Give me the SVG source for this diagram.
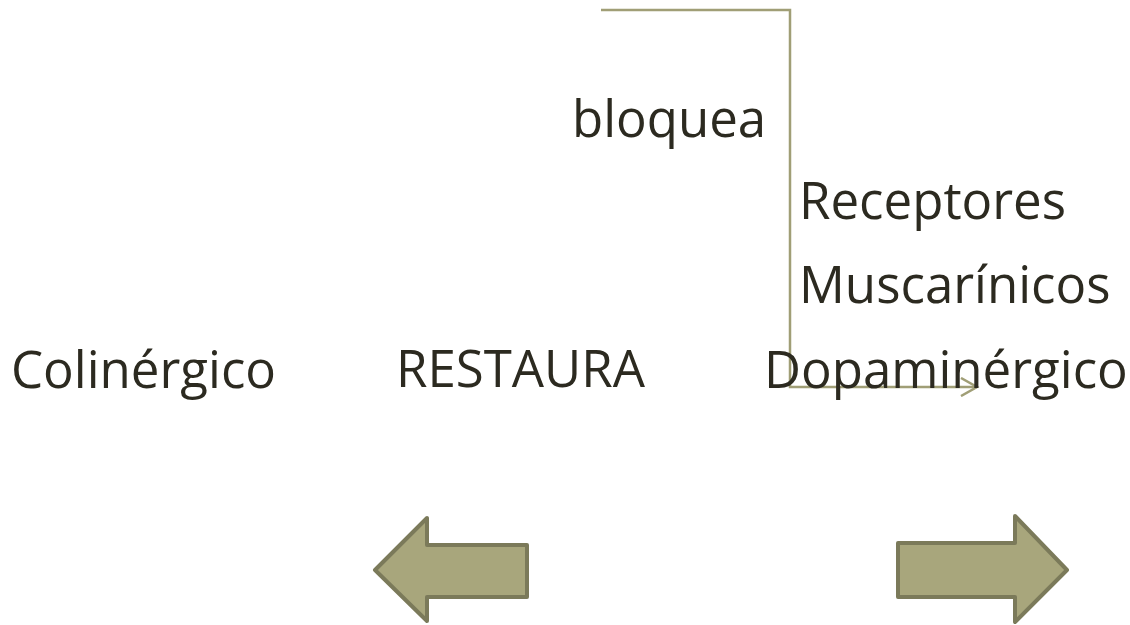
<svg xmlns="http://www.w3.org/2000/svg" width="1130" height="625" viewBox="0 0 1130 625">
<style>
.t{font-family:"Open Sans","Liberation Sans",sans-serif;font-size:51px;fill:#2c2a20}
.blk{fill:#a8a67c;stroke:#7b7a5a;stroke-width:4;stroke-linejoin:round}
.con{fill:none;stroke:#a09e76;stroke-width:2.5}
</style>
<defs>
<marker id="open" markerWidth="20" markerHeight="20" refX="17" refY="10" orient="auto" markerUnits="userSpaceOnUse">
<path d="M1,1 L17,10 L1,19" fill="none" stroke="#a09e76" stroke-width="2.5"/>
</marker>
</defs>
<rect width="1130" height="625" fill="#ffffff"/>
<g id="connectors">
<path class="con" d="M601,10 H790 V387 H977" marker-end="url(#open)"/>
</g>
<g id="colinergico"><text class="t" x="11" y="388">Colinérgico</text></g>
<g id="restaura"><text class="t" x="396" y="387">RESTAURA</text></g>
<g id="dopaminergico"><text class="t" x="764" y="388">Dopaminérgico</text></g>
<g id="bloquea"><text class="t" x="572" y="137">bloquea</text></g>
<g id="receptores"><text class="t" x="799" y="219">Receptores</text><text class="t" x="799" y="303">Muscarínicos</text></g>
<g id="arrow-left"><path class="blk" d="M375,570 L427,518 L427,545 L527,545 L527,597 L427,597 L427,621 Z"/></g>
<g id="arrow-right"><path class="blk" d="M898,543 L1015,543 L1015,516 L1067,570 L1015,622 L1015,597 L898,597 Z"/></g>
</svg>
